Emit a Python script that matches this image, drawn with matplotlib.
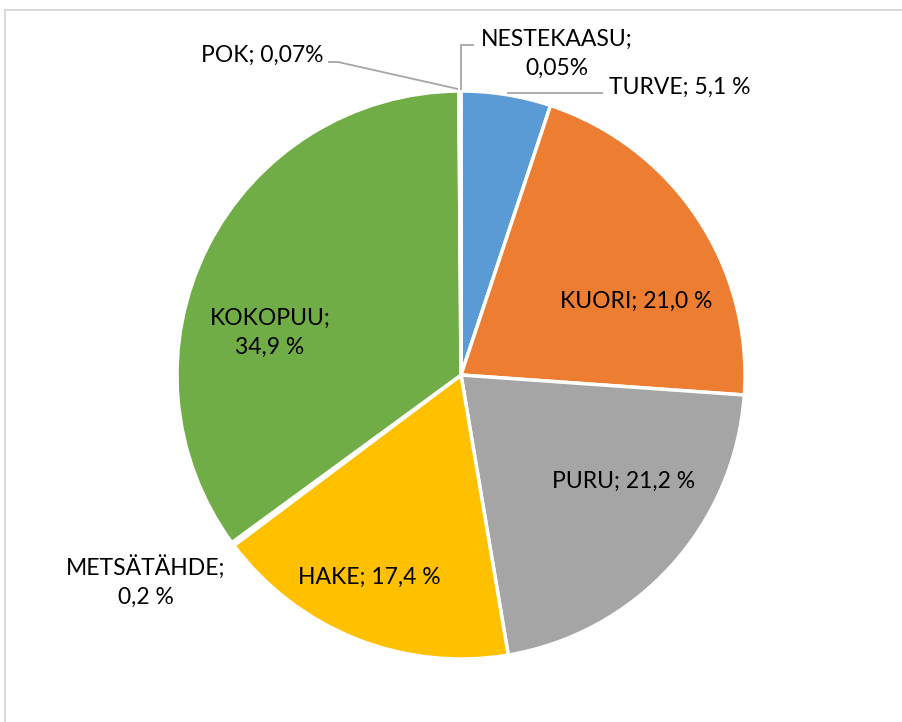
import matplotlib.pyplot as plt
from matplotlib.patches import Rectangle

plt.rcParams['font.family'] = ['Lato', 'DejaVu Sans']

# shares of fuel, clockwise from 12 o'clock
labels = ['TURVE', 'KUORI', 'PURU', 'HAKE', 'METSÄTÄHDE', 'KOKOPUU', 'POK', 'NESTEKAASU']
values = [5.1, 21.0, 21.2, 17.4, 0.2, 34.9, 0.07, 0.05]
value_txt = ['5,1 %', '21,0 %', '21,2 %', '17,4 %', '0,2 %', '34,9 %', '0,07%', '0,05%']
colors = ['#5B9BD5', '#ED7D31', '#A5A5A5', '#FFC000', '#4472C4', '#70AD47', '#255E91', '#9E480E']

W, H = 902, 722
CX, CY, R = 461, 375, 284

fig = plt.figure(figsize=(W / 100, H / 100), dpi=100)
ax = fig.add_axes([0, 0, 1, 1])


def px(x, y):
    # pixel position in the picture -> data coords
    return (x - CX) / R, (CY - y) / R


ax.pie(values, colors=colors, startangle=90, counterclock=False, radius=1,
       wedgeprops=dict(edgecolor='white', linewidth=2.5))
ax.set_aspect('auto')
ax.set_xlim(-CX / R, (W - CX) / R)
ax.set_ylim((CY - H) / R, CY / R)
ax.axis('off')

# label layout (pixel centres) and leader lines
label_pos = {
    'TURVE': (680, 87, '{}; {}'),
    'KUORI': (636, 301, '{}; {}'),
    'PURU': (624, 481, '{}; {}'),
    'HAKE': (369, 577, '{}; {}'),
    'METSÄTÄHDE': (146, 582, '{};\n{}'),
    'KOKOPUU': (270, 333, '{};\n{}'),
    'POK': (262, 55, '{}; {}'),
    'NESTEKAASU': (557, 54, '{};\n{}'),
}
for name, txt in zip(labels, value_txt):
    x, y, fmt = label_pos[name]
    ax.text(*px(x, y), fmt.format(name, txt), ha='center', va='center',
            fontsize=16.5, color='black', linespacing=1.45)

leaders = [
    [(507, 93), (603, 93)],
    [(461, 90), (461, 45), (474, 45)],
    [(458, 89), (338, 62), (328, 62)],
]
for pts in leaders:
    xs, ys = zip(*[px(*p) for p in pts])
    ax.plot(xs, ys, color='#A6A6A6', lw=1.3, solid_capstyle='butt')

# outer chart frame
fig.patches.append(Rectangle((5 / W, -0.1), 1.1, 1.1 - 10 / H,
                             transform=fig.transFigure, fill=False,
                             edgecolor='#D9D9D9', lw=1.5))

fig.savefig('out.png', dpi=100)
